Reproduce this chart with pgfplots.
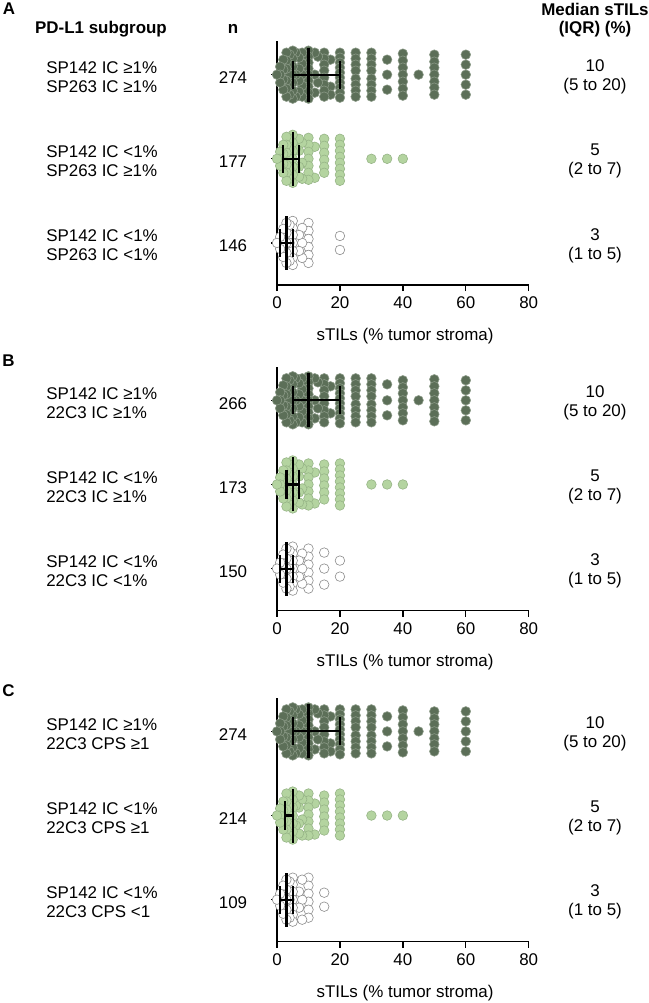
\documentclass[border=0pt]{standalone}
\usepackage{fontspec}
\setmainfont{Liberation Sans}
\usepackage{pgfplots}
\pgfplotsset{compat=1.18}
\usepackage{pgfplotstable}

\definecolor{dkg}{HTML}{5C6F58}
\definecolor{dkge}{HTML}{8A9986}
\definecolor{ltg}{HTML}{B4D4A0}
\definecolor{ltge}{HTML}{97B587}
\definecolor{wte}{HTML}{8C8C8C}

\newcommand{\fs}{\fontsize{12.7}{14.2}\selectfont}

% ---------- data: x = sTILs value, o = vertical swarm offset (px, downward)
\pgfplotstableread[row sep=\\]{x o\\
60 -20\\60 -10\\60 0\\60 10\\60 20\\
50 -20\\50 -13\\50 -7\\50 0\\50 7\\50 13\\50 20\\
45 0\\
40 -21\\40 -14\\40 -7\\40 0\\40 7\\40 14\\40 21\\
35 -15\\35 0\\35 15\\
30 -22\\30 -16\\30 -10\\30 -4\\30 4\\30 10\\30 16\\30 22\\
25 -22\\25 -16\\25 -10\\25 -4\\25 4\\25 10\\25 16\\25 22\\
20 -22\\20 -17\\20 -12\\20 -7\\20 -2\\20 3\\20 8\\20 13\\20 18\\20 23\\
17 -15\\17 12\\17 20\\
15 -22\\15 -16\\15 -10\\15 -4\\15 3\\15 10\\15 16\\15 22\\
13 -18\\13 8\\
12 -22\\12 0\\12 18\\
10 -24\\10 -18\\10 -12\\10 -6\\10 0\\10 6\\10 12\\10 18\\10 24\\
9 -20\\9 16\\
8 -22\\8 -11\\8 0\\8 11\\8 22\\
7 -17\\7 -6\\7 6\\7 17\\
6 -22\\6 0\\6 22\\
5 -24\\5 -16\\5 -8\\5 0\\5 8\\5 16\\5 24\\
4 -20\\4 -10\\4 0\\4 10\\4 20\\
3 -22\\3 -14\\3 -6\\3 6\\3 14\\3 22\\
2 -15\\2 -5\\2 5\\2 15\\
1 -8\\1 0\\1 8\\
0 0\\
}\tAa
\pgfplotstableread[row sep=\\]{x o\\
40 0\\35 0\\30 0\\
20 -20\\20 -14\\20 -8\\20 -2\\20 4\\20 10\\20 16\\20 22\\
15 -20\\15 -13\\15 -6\\15 1\\15 8\\15 14\\
12 -12\\12 19\\
10 -21\\10 -14\\10 -7\\10 0\\10 7\\10 14\\10 21\\
8 -16\\8 4\\8 20\\
7 -20\\7 -8\\7 8\\7 18\\
6 -10\\6 10\\
5 -24\\5 -16\\5 -8\\5 0\\5 8\\5 16\\5 24\\
4 -20\\4 -10\\4 0\\4 10\\4 20\\
3 -22\\3 -14\\3 -6\\3 6\\3 14\\3 22\\
2 -14\\2 -5\\2 5\\2 14\\
1 -7\\1 0\\1 7\\
0 0\\
}\tAb
\pgfplotstableread[row sep=\\]{x o\\
20 -7\\20 7\\
10 -20\\10 -12\\10 -4\\10 4\\10 12\\10 20\\
8 -15\\8 0\\8 15\\
7 -8\\7 8\\
5 -22\\5 -15\\5 -8\\5 0\\5 8\\5 15\\5 22\\
4 -18\\4 0\\4 18\\
3 -20\\3 -10\\3 0\\3 10\\3 20\\
2 -14\\2 -5\\2 5\\2 14\\
1 -6\\1 6\\
0 0\\
}\tAc
\pgfplotstableread[row sep=\\]{x o\\
60 -20\\60 -10\\60 0\\60 10\\60 20\\
50 -21\\50 -14\\50 -7\\50 0\\50 7\\50 14\\50 21\\
45 0\\
40 -20\\40 -13\\40 -7\\40 0\\40 7\\40 13\\40 20\\
35 -16\\35 0\\35 15\\
30 -22\\30 -16\\30 -10\\30 -4\\30 4\\30 10\\30 16\\30 22\\
25 -22\\25 -16\\25 -10\\25 -4\\25 4\\25 10\\25 16\\25 22\\
20 -22\\20 -17\\20 -12\\20 -7\\20 -2\\20 3\\20 8\\20 13\\20 18\\20 23\\
17 -14\\17 13\\
15 -22\\15 -16\\15 -10\\15 -4\\15 3\\15 10\\15 16\\15 22\\
13 -18\\13 8\\
12 -22\\12 0\\12 18\\
10 -24\\10 -18\\10 -12\\10 -6\\10 0\\10 6\\10 12\\10 18\\10 24\\
9 -20\\9 16\\
8 -22\\8 -11\\8 0\\8 11\\8 22\\
7 -17\\7 -6\\7 6\\7 17\\
6 -22\\6 0\\6 22\\
5 -24\\5 -16\\5 -8\\5 0\\5 8\\5 16\\5 24\\
4 -20\\4 -10\\4 0\\4 10\\4 20\\
3 -22\\3 -14\\3 -6\\3 6\\3 14\\3 22\\
2 -15\\2 -5\\2 5\\2 15\\
1 -8\\1 0\\1 8\\
0 0\\
}\tBa
\pgfplotstableread[row sep=\\]{x o\\
40 0\\35 0\\30 0\\
20 -21\\20 -15\\20 -9\\20 -3\\20 3\\20 9\\20 15\\20 21\\
15 -20\\15 -13\\15 -6\\15 1\\15 8\\15 15\\
12 -12\\12 19\\
10 -21\\10 -14\\10 -7\\10 0\\10 7\\10 14\\10 21\\
8 -16\\8 4\\8 20\\
7 -20\\7 -8\\7 8\\7 18\\
6 -10\\6 10\\
5 -24\\5 -16\\5 -8\\5 0\\5 8\\5 16\\5 24\\
4 -20\\4 -10\\4 0\\4 10\\4 20\\
3 -22\\3 -14\\3 -6\\3 6\\3 14\\3 22\\
2 -14\\2 -5\\2 5\\2 14\\
1 -7\\1 0\\1 7\\
0 0\\
}\tBb
\pgfplotstableread[row sep=\\]{x o\\
20 -8\\20 8\\
15 -16\\15 0\\15 16\\
10 -20\\10 -12\\10 -4\\10 4\\10 12\\10 20\\
8 -15\\8 0\\8 15\\
7 -8\\7 8\\
5 -22\\5 -15\\5 -8\\5 0\\5 8\\5 15\\5 22\\
4 -18\\4 0\\4 18\\
3 -20\\3 -10\\3 0\\3 10\\3 20\\
2 -14\\2 -5\\2 5\\2 14\\
1 -6\\1 6\\
0 0\\
}\tBc
\pgfplotstableread[row sep=\\]{x o\\
60 -20\\60 -10\\60 0\\60 10\\60 20\\
50 -20\\50 -13\\50 -7\\50 0\\50 7\\50 13\\50 20\\
45 0\\
40 -21\\40 -14\\40 -7\\40 0\\40 7\\40 14\\40 21\\
35 -15\\35 0\\35 15\\
30 -22\\30 -16\\30 -10\\30 -4\\30 4\\30 10\\30 16\\30 22\\
25 -22\\25 -16\\25 -10\\25 -4\\25 4\\25 10\\25 16\\25 22\\
20 -22\\20 -17\\20 -12\\20 -7\\20 -2\\20 3\\20 8\\20 13\\20 18\\20 23\\
17 -15\\17 12\\17 20\\
15 -22\\15 -16\\15 -10\\15 -4\\15 3\\15 10\\15 16\\15 22\\
13 -18\\13 8\\
12 -22\\12 0\\12 18\\
10 -24\\10 -18\\10 -12\\10 -6\\10 0\\10 6\\10 12\\10 18\\10 24\\
9 -20\\9 16\\
8 -22\\8 -11\\8 0\\8 11\\8 22\\
7 -17\\7 -6\\7 6\\7 17\\
6 -22\\6 0\\6 22\\
5 -24\\5 -16\\5 -8\\5 0\\5 8\\5 16\\5 24\\
4 -20\\4 -10\\4 0\\4 10\\4 20\\
3 -22\\3 -14\\3 -6\\3 6\\3 14\\3 22\\
2 -15\\2 -5\\2 5\\2 15\\
1 -8\\1 0\\1 8\\
0 0\\
}\tCa
\pgfplotstableread[row sep=\\]{x o\\
40 0\\35 0\\30 0\\
20 -22\\20 -16\\20 -10\\20 -4\\20 2\\20 8\\20 14\\20 20\\
15 -20\\15 -13\\15 -6\\15 1\\15 8\\15 15\\
12 -12\\12 19\\
10 -22\\10 -15\\10 -8\\10 -1\\10 6\\10 13\\10 20\\
8 -16\\8 4\\8 20\\
7 -20\\7 -8\\7 8\\7 18\\
6 -10\\6 10\\
5 -24\\5 -16\\5 -8\\5 0\\5 8\\5 16\\5 24\\
4 -20\\4 -10\\4 0\\4 10\\4 20\\
3 -22\\3 -14\\3 -6\\3 6\\3 14\\3 22\\
2 -14\\2 -5\\2 5\\2 14\\
1 -7\\1 0\\1 7\\
0 0\\
}\tCb
\pgfplotstableread[row sep=\\]{x o\\
15 -7\\15 7\\
10 -22\\10 -14\\10 -6\\10 2\\10 10\\10 18\\
8 -20\\8 0\\8 20\\
7 -8\\7 8\\
5 -22\\5 -15\\5 -8\\5 0\\5 8\\5 15\\5 22\\
4 -18\\4 0\\4 18\\
3 -20\\3 -10\\3 0\\3 10\\3 20\\
2 -14\\2 -5\\2 5\\2 14\\
1 -6\\1 6\\
0 0\\
}\tCc

\pgfplotsset{
  swarm/.style={
    scale only axis, width=188.8pt, height=183pt,
    anchor=south west,
    clip marker paths=true,
    xmin=0, xmax=80, ymin=0.5, ymax=3.4,
    axis x line=bottom, axis y line=left,
    axis line style={-, line width=1pt, black},
    xtick={0,20,40,60,80}, ytick={1,2,3}, yticklabels={},
    tick align=outside, major tick length=4.5pt,
    tick style={black, line width=1pt},
    clip=false,
    ticklabel style={font=\fs},
    /pgf/number format/assume math mode=true,
    xticklabel style={yshift=-1pt},
  },
  g1/.style={only marks, mark=*, mark size=3.6pt,
    mark options={fill=dkg, draw=dkge, line width=0.45pt}},
  g2/.style={only marks, mark=*, mark size=3.6pt,
    mark options={fill=ltg, draw=ltge, line width=0.45pt}},
  g3/.style={only marks, mark=*, mark size=3.6pt,
    mark options={fill=white, draw=wte, line width=0.45pt}},
  eb/.style={black, line width=1.6pt, no marks},
}

\newcommand{\rowtext}[4]{%
  \node[anchor=west, align=left] at (46,#1+2.5) {#2};
  \node at (233,#1+3) {#3};
  \node[align=center] at (595,#1+2.5) {#4};}

\begin{document}
\begin{tikzpicture}
\useasboundingbox (0pt,0pt) rectangle (486.75pt,-752.25pt);

% ================= Panel A
\begin{axis}[swarm, at={(207.75pt,-213.75pt)}]
\addplot[g1] table[x=x, y expr=3-\thisrow{o}/84.1] {\tAa};
\addplot[g2] table[x=x, y expr=2-\thisrow{o}/84.1] {\tAb};
\addplot[g3] table[x=x, y expr=1-\thisrow{o}/84.1] {\tAc};
\addplot[eb] coordinates {(5,3) (20,3)};
\addplot[eb] coordinates {(5,2.833) (5,3.167)};
\addplot[eb] coordinates {(20,2.833) (20,3.167)};
\addplot[eb] coordinates {(10,2.679) (10,3.321)};
\addplot[eb] coordinates {(2,2) (7,2)};
\addplot[eb] coordinates {(2,1.833) (2,2.167)};
\addplot[eb] coordinates {(7,1.833) (7,2.167)};
\addplot[eb] coordinates {(5,1.679) (5,2.321)};
\addplot[eb] coordinates {(1,1) (5,1)};
\addplot[eb] coordinates {(1,0.833) (1,1.167)};
\addplot[eb] coordinates {(5,0.833) (5,1.167)};
\addplot[eb] coordinates {(3,0.679) (3,1.321)};
\end{axis}

% ================= Panel B
\begin{axis}[swarm, at={(207.75pt,-458.0pt)}]
\addplot[g1] table[x=x, y expr=3-\thisrow{o}/84.1] {\tBa};
\addplot[g2] table[x=x, y expr=2-\thisrow{o}/84.1] {\tBb};
\addplot[g3] table[x=x, y expr=1-\thisrow{o}/84.1] {\tBc};
\addplot[eb] coordinates {(5,3) (20,3)};
\addplot[eb] coordinates {(5,2.833) (5,3.167)};
\addplot[eb] coordinates {(20,2.833) (20,3.167)};
\addplot[eb] coordinates {(10,2.679) (10,3.321)};
\addplot[eb] coordinates {(3,2) (7,2)};
\addplot[eb] coordinates {(3,1.833) (3,2.167)};
\addplot[eb] coordinates {(7,1.833) (7,2.167)};
\addplot[eb] coordinates {(5,1.679) (5,2.321)};
\addplot[eb] coordinates {(1,1) (5,1)};
\addplot[eb] coordinates {(1,0.833) (1,1.167)};
\addplot[eb] coordinates {(5,0.833) (5,1.167)};
\addplot[eb] coordinates {(3,0.679) (3,1.321)};
\end{axis}

% ================= Panel C
\begin{axis}[swarm, at={(207.75pt,-706.3pt)}]
\addplot[g1] table[x=x, y expr=3-\thisrow{o}/84.1] {\tCa};
\addplot[g2] table[x=x, y expr=2-\thisrow{o}/84.1] {\tCb};
\addplot[g3] table[x=x, y expr=1-\thisrow{o}/84.1] {\tCc};
\addplot[eb] coordinates {(5,3) (20,3)};
\addplot[eb] coordinates {(5,2.833) (5,3.167)};
\addplot[eb] coordinates {(20,2.833) (20,3.167)};
\addplot[eb] coordinates {(10,2.679) (10,3.321)};
\addplot[eb] coordinates {(2.5,2) (5,2)};
\addplot[eb] coordinates {(2.5,1.833) (2.5,2.167)};
\addplot[eb] coordinates {(5,1.679) (5,2.321)};
\addplot[eb] coordinates {(1,1) (5,1)};
\addplot[eb] coordinates {(1,0.833) (1,1.167)};
\addplot[eb] coordinates {(5,0.833) (5,1.167)};
\addplot[eb] coordinates {(3,0.679) (3,1.321)};
\end{axis}

% ================= Texts (coordinates in px, y downward)
\begin{scope}[x=0.75pt, y=-0.75pt, every node/.style={font=\fs, inner sep=0pt}]
\node[font=\fs\bfseries] at (9,9) {A};
\node[font=\fs\bfseries] at (101,29) {PD-L1 subgroup};
\node[font=\fs\bfseries] at (233,29) {n};
\node[font=\fs\bfseries] at (595,9.5) {Median sTILs};
\node[font=\fs\bfseries] at (595,29) {(IQR) (\%)};
\rowtext{74.7}{SP142 IC ≥1\%\\SP263 IC ≥1\%}{274}{10\\(5 to 20)}
\rowtext{158.8}{SP142 IC <1\%\\SP263 IC ≥1\%}{177}{5\\(2 to 7)}
\rowtext{242.9}{SP142 IC <1\%\\SP263 IC <1\%}{146}{3\\(1 to 5)}
\node at (405,336) {sTILs (\% tumor stroma)};

\node[font=\fs\bfseries] at (8.5,361) {B};
\rowtext{400.4}{SP142 IC ≥1\%\\22C3 IC ≥1\%}{266}{10\\(5 to 20)}
\rowtext{484.5}{SP142 IC <1\%\\22C3 IC ≥1\%}{173}{5\\(2 to 7)}
\rowtext{568.6}{SP142 IC <1\%\\22C3 IC <1\%}{150}{3\\(1 to 5)}
\node at (405,662) {sTILs (\% tumor stroma)};

\node[font=\fs\bfseries] at (8.5,691) {C};
\rowtext{731.4}{SP142 IC ≥1\%\\22C3 CPS ≥1}{274}{10\\(5 to 20)}
\rowtext{815.5}{SP142 IC <1\%\\22C3 CPS ≥1}{214}{5\\(2 to 7)}
\rowtext{899.6}{SP142 IC <1\%\\22C3 CPS <1}{109}{3\\(1 to 5)}
\node at (405,993) {sTILs (\% tumor stroma)};
\end{scope}
\end{tikzpicture}
\end{document}
